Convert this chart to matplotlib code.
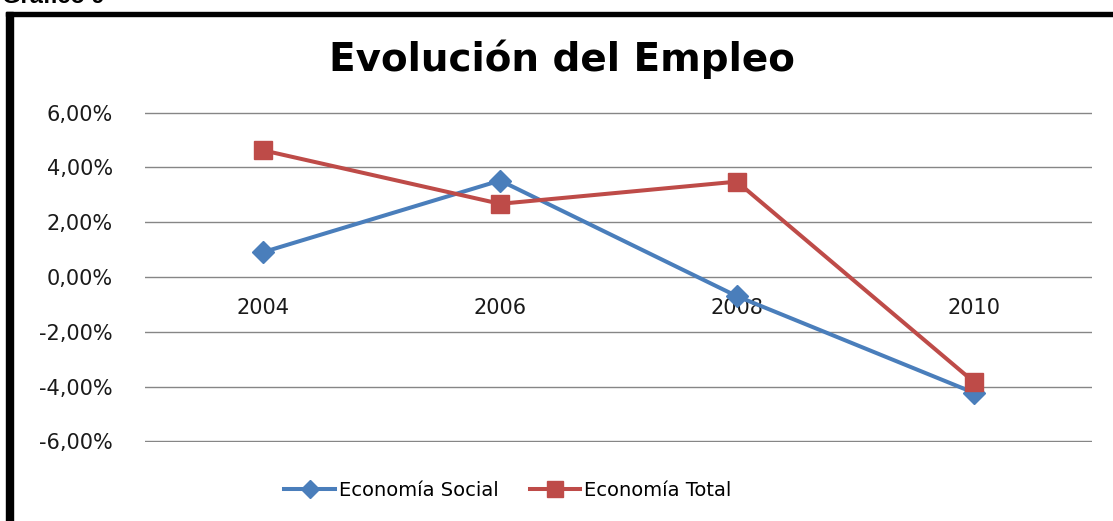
import matplotlib.pyplot as plt
from matplotlib.lines import Line2D
from matplotlib.patches import Rectangle

# Datos (tasas de variación del empleo, en %)
years = ["2004", "2006", "2008", "2010"]
social = [0.91, 3.52, -0.70, -4.22]
total = [4.62, 2.67, 3.48, -3.82]
yticks = [-6, -4, -2, 0, 2, 4, 6]

blue = "#4A7EBB"
red = "#BE4B48"
txt = "#1a1a1a"

W, H = 1113, 521
fig = plt.figure(figsize=(W / 100, H / 100), dpi=100)

# plot area in pixels: x 145..1092, y 112 (6%) .. 442 (-6%)
left, right = 145, 1092
y_top, y_bot = 112, 442
ax = fig.add_axes([left / W, 1 - y_bot / H, (right - left) / W, (y_bot - y_top) / H])

x = list(range(len(years)))
ax.plot(x, social, color=blue, lw=2.9, marker="D", ms=11, mec=blue, mfc=blue,
        label="Economía Social", zorder=3, clip_on=False)
ax.plot(x, total, color=red, lw=2.9, marker="s", ms=13, mec=red, mfc=red,
        label="Economía Total", zorder=4, clip_on=False)

ax.set_xlim(-0.5, len(years) - 0.5)
ax.set_ylim(-6.02, 6.02)
ax.set_yticks(yticks)
ax.set_yticklabels([f"{v:.2f}%".replace(".", ",") for v in yticks],
                   fontsize=15, color=txt, family="DejaVu Sans")
ax.tick_params(axis="y", length=0, pad=23)
ax.grid(axis="y", color="#868686", lw=1)
ax.set_axisbelow(True)
for s in ax.spines.values():
    s.set_visible(False)

# category labels sit just under the zero line
ax.set_xticks([])
for i, yr in enumerate(years):
    ax.text(i, -1.12, yr, ha="center", va="center", fontsize=15,
            color=txt, family="DejaVu Sans", zorder=2)

fig.text(562 / W, 1 - 59 / H, "Evolución del Empleo", ha="center", va="center",
         fontsize=28, fontweight="bold", family="DejaVu Sans")

handles = [
    Line2D([], [], color=blue, lw=2.9, marker="D", ms=9, mfc=blue, mec=blue),
    Line2D([], [], color=red, lw=2.9, marker="s", ms=11, mfc=red, mec=red),
]
fig.legend(handles, ["Economía Social", "Economía Total"], loc="center",
           bbox_to_anchor=(508 / W, 1 - 490 / H), ncol=2, frameon=False,
           prop={"family": "DejaVu Sans", "size": 14}, handlelength=2.6,
           handletextpad=0.2, columnspacing=1.6)

# outer frame (cut off on the right and bottom)
fig.patches.append(Rectangle((6 / W, 0), 7 / W, 1 - 12 / H, transform=fig.transFigure,
                             color="black", zorder=10))
fig.patches.append(Rectangle((6 / W, 1 - 16 / H), 1 - 6 / W, 4 / H,
                             transform=fig.transFigure, color="black", zorder=10))

fig.text(2 / W, 1 - 3 / H, "Gráfico 9", ha="left", va="baseline", fontsize=17,
         fontweight="bold", family="Liberation Sans")

fig.savefig("out.png", dpi=100)
